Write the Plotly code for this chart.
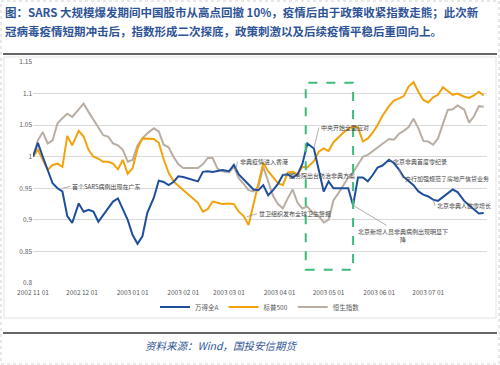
import plotly.graph_objects as go

# ---------------- data ----------------
dates = [
    "2002-11-01", "2002-11-04", "2002-11-07", "2002-11-10", "2002-11-13", "2002-11-16", "2002-11-19",
    "2002-11-22", "2002-11-25", "2002-11-29", "2002-12-02", "2002-12-05", "2002-12-08", "2002-12-11",
    "2002-12-14", "2002-12-17", "2002-12-20", "2002-12-23", "2002-12-26", "2002-12-29", "2003-01-01",
    "2003-01-04", "2003-01-07", "2003-01-10", "2003-01-14", "2003-01-17", "2003-01-20", "2003-01-23",
    "2003-01-26", "2003-01-29", "2003-02-01", "2003-02-04", "2003-02-07", "2003-02-10", "2003-02-13",
    "2003-02-16", "2003-02-19", "2003-02-22", "2003-02-25", "2003-03-01", "2003-03-04", "2003-03-07",
    "2003-03-10", "2003-03-13", "2003-03-16", "2003-03-19", "2003-03-22", "2003-03-25", "2003-03-28",
    "2003-03-31", "2003-04-03", "2003-04-06", "2003-04-09", "2003-04-12", "2003-04-15", "2003-04-18",
    "2003-04-22", "2003-04-25", "2003-04-28", "2003-05-01", "2003-05-04", "2003-05-07", "2003-05-10",
    "2003-05-13", "2003-05-16", "2003-05-19", "2003-05-22", "2003-05-25", "2003-05-28", "2003-05-31",
    "2003-06-03", "2003-06-07", "2003-06-10", "2003-06-13", "2003-06-16", "2003-06-19", "2003-06-22",
    "2003-06-25", "2003-06-28", "2003-07-01", "2003-07-04", "2003-07-07", "2003-07-10", "2003-07-13",
    "2003-07-16", "2003-07-19", "2003-07-23", "2003-07-26", "2003-07-29", "2003-08-01", "2003-08-04",
]

wind_a = [
    1.000, 1.022, 1.000, 0.979, 0.958, 0.950, 0.945, 0.906, 0.895, 0.926,
    0.913, 0.916, 0.913, 0.897, 0.908, 0.918, 0.929, 0.934, 0.916, 0.900,
    0.876, 0.862, 0.874, 0.911, 0.935, 0.962, 0.960, 0.955, 0.960, 0.969,
    0.968, 0.966, 0.963, 0.961, 0.976, 0.977, 0.976, 0.977, 0.979, 0.977,
    0.987, 0.972, 0.964, 0.955, 0.948, 0.947, 0.955, 0.939, 0.947, 0.957,
    0.971, 0.972, 0.967, 0.972, 0.989, 1.021, 1.013, 0.979, 0.945, 0.961,
    0.950, 0.950, 0.950, 0.950, 0.923, 0.967, 0.967, 0.961, 0.971, 0.983,
    0.986, 0.995, 0.990, 0.980, 0.968, 0.962, 0.955, 0.945, 0.940, 0.937,
    0.932, 0.930, 0.936, 0.943, 0.948, 0.944, 0.930, 0.923, 0.916, 0.910,
    0.911,
]

sp500 = [
    1.000, 1.011, 0.995, 0.979, 0.987, 0.989, 0.984, 1.033, 1.018, 1.041,
    1.032, 1.011, 1.000, 0.997, 0.992, 0.992, 0.989, 0.980, 0.995, 0.973,
    0.982, 1.013, 1.029, 1.029, 1.028, 1.022, 0.996, 0.975, 0.961, 0.954,
    0.947, 0.941, 0.934, 0.927, 0.913, 0.917, 0.929, 0.927, 0.925, 0.926,
    0.925, 0.913, 0.906, 0.892, 0.925, 0.958, 0.990, 0.977, 0.967, 0.958,
    0.955, 0.975, 0.976, 0.972, 0.984, 0.983, 0.993, 1.008, 1.013, 1.009,
    1.023, 1.031, 1.038, 1.044, 1.048, 1.046, 1.024, 1.029, 1.038, 1.050,
    1.065, 1.080, 1.089, 1.092, 1.096, 1.111, 1.118, 1.103, 1.090, 1.086,
    1.094, 1.098, 1.110, 1.104, 1.098, 1.100, 1.095, 1.093, 1.097, 1.103,
    1.097,
]

hsi = [
    1.000, 1.026, 1.039, 1.021, 1.026, 1.053, 1.061, 1.068, 1.063, 1.076,
    1.084, 1.071, 1.058, 1.047, 1.034, 1.032, 1.021, 1.018, 1.011, 0.992,
    0.995, 1.018, 1.029, 1.037, 1.045, 1.040, 1.019, 1.015, 1.000, 0.988,
    0.982, 0.982, 0.982, 0.982, 0.988, 0.998, 0.998, 0.981, 0.977, 0.975,
    0.984, 0.966, 0.957, 0.947, 0.945, 0.953, 0.984, 0.959, 0.938, 0.925,
    0.918, 0.934, 0.948, 0.927, 0.918, 0.921, 0.909, 0.906, 0.896, 0.900,
    0.931, 0.942, 0.955, 0.967, 0.975, 0.987, 1.000, 1.003, 1.009, 1.015,
    1.021, 1.028, 1.027, 1.036, 1.041, 1.047, 1.060, 1.045, 1.025, 1.024,
    1.019, 1.029, 1.052, 1.074, 1.075, 1.081, 1.075, 1.054, 1.064, 1.080,
    1.079,
]

series_names = ["万得全A", "标普500", "恒生指数"]
series_colors = ["#1F4E9C", "#F2A20C", "#B9AEA3"]

x_tick_vals = ["2002-11-01", "2002-12-01", "2003-01-01", "2003-02-01", "2003-03-01",
               "2003-04-01", "2003-05-01", "2003-06-01", "2003-07-01"]
x_tick_text = ["2002 11 01", "2002 12 01", "2003 01 01", "2003 02 01", "2003 03 01",
               "2003 04 01", "2003 05 01", "2003 06 01", "2003 07 01"]
y_tick_vals = [0.8, 0.85, 0.9, 0.95, 1.0, 1.05, 1.1, 1.15]
y_tick_text = ["0.8", "0.85", "0.9", "0.95", "1", "1.05", "1.1", "1.15"]

# event annotations: text, anchor date, anchor value, pixel offsets of the text tail,
# and which side of the text box sits at the tail
event_texts = [
    "首个SARS病例出现在广东",
    "非典疫情进入香港",
    "世卫组织发布全球卫生警报",
    "中央开始全面应对",
    "国务院出台防治非典方案",
    "北京非典首度零纪录",
    "央行加强规范了房地产信贷业务",
    "北京非典人数零增长",
    "北京新增人员非典病例出现明显下<br>降",
]
event_dates = ["2002-11-19", "2003-03-05", "2003-03-12", "2003-04-22", "2003-04-03",
               "2003-06-07", "2003-06-13", "2003-07-04", "2003-05-16"]
event_values = [0.950, 0.978, 0.905, 1.013, 0.971, 0.995, 0.980, 0.932, 0.923]
event_ax = [8, 2, 10, 5, 4, 2, 4, 2, 50]
event_ay = [-2, -9, -3, -21, 0, 2, 9, 6, 30]
event_anchor = ["left", "left", "left", "left", "left", "left", "left", "left", "center"]

box_x = ["2003-04-17", "2003-05-16"]
box_y = [0.821, 1.117]

title_line1 = "图：SARS 大规模爆发期间中国股市从高点回撤 10%，疫情后由于政策收紧指数走熊；此次新"
title_line2 = "冠病毒疫情短期冲击后，指数形成二次探底，政策刺激以及后续疫情平稳后重回向上。"
source_text = "资料来源：Wind，国投安信期货"

# ---------------- figure ----------------
W, H = 500, 365
ML, MR, MT, MB = 33, 13, 62, 82
PW, PH = W - ML - MR, H - MT - MB
FONT = "Noto Sans CJK SC, Noto Sans, sans-serif"


def px_x(px):
    return (px - ML) / PW


def px_y(py):
    return (H - MB - py) / PH


fig = go.Figure()
for name, vals, col in zip(series_names[::-1], [hsi, sp500, wind_a], series_colors[::-1]):
    fig.add_trace(go.Scatter(x=dates, y=vals, name=name, mode="lines",
                             line=dict(color=col, width=2)))

annotations = []
for t, d, v, ax, ay, anc in zip(event_texts, event_dates, event_values, event_ax, event_ay,
                                event_anchor):
    annotations.append(dict(x=d, y=v, xref="x", yref="y", text=t, showarrow=True,
                            arrowhead=0, arrowwidth=0.7, arrowcolor="#8C8C8C",
                            ax=ax, ay=ay, standoff=0, align="center", xanchor=anc,
                            font=dict(size=6, color="#454545", family=FONT)))

annotations += [
    dict(x=px_x(3), y=px_y(12), xref="paper", yref="paper", xanchor="left", yanchor="middle",
         text="<b>" + title_line1 + "</b>", showarrow=False,
         font=dict(size=11.5, color="#2F5496", family=FONT)),
    dict(x=px_x(3), y=px_y(31), xref="paper", yref="paper", xanchor="left", yanchor="middle",
         text="<b>" + title_line2 + "</b>", showarrow=False,
         font=dict(size=11.5, color="#2F5496", family=FONT)),
    dict(x=px_x(143), y=px_y(345), xref="paper", yref="paper", xanchor="left", yanchor="middle",
         text="<i>" + source_text + "</i>", showarrow=False,
         font=dict(size=10.5, color="#2F5496", family=FONT)),
]

shapes = [
    dict(type="rect", xref="x", yref="y", x0=box_x[0], x1=box_x[1], y0=box_y[0], y1=box_y[1],
         line=dict(color="#3DBB7A", width=2, dash="dash")),
    dict(type="line", xref="paper", yref="paper", x0=px_x(3), x1=px_x(497), y0=px_y(54), y1=px_y(54),
         line=dict(color="#333333", width=1.5)),
    dict(type="line", xref="paper", yref="paper", x0=px_x(3), x1=px_x(497), y0=px_y(333), y1=px_y(333),
         line=dict(color="#333333", width=1.5)),
    dict(type="rect", xref="paper", yref="paper", x0=px_x(4), x1=px_x(496), y0=px_y(318), y1=px_y(57),
         line=dict(color="#E3E3E3", width=1)),
    dict(type="rect", xref="paper", yref="paper", x0=px_x(1), x1=px_x(499), y0=px_y(364), y1=px_y(1),
         line=dict(color="#D0D0D0", width=1, dash="dot")),
]

fig.update_layout(
    width=W, height=H,
    margin=dict(l=ML, r=MR, t=MT, b=MB),
    paper_bgcolor="white", plot_bgcolor="white",
    font=dict(family=FONT, color="#595959"),
    showlegend=True,
    legend=dict(orientation="h", x=0.5, xanchor="center", y=px_y(307), yanchor="middle",
                font=dict(size=6.5, color="#595959"), traceorder="reversed",
                itemwidth=30, bgcolor="rgba(0,0,0,0)"),
    xaxis=dict(type="date", range=["2002-11-01", "2003-08-06"], tickvals=x_tick_vals,
               ticktext=x_tick_text, showgrid=False, zeroline=False, showline=False,
               ticks="", ticklabelstandoff=4, tickfont=dict(size=6.5, color="#595959"),
               automargin=False),
    yaxis=dict(range=[0.8, 1.15], tickvals=y_tick_vals, ticktext=y_tick_text,
               showgrid=True, gridcolor="#D9D9D9", gridwidth=1, zeroline=False,
               showline=False, ticks="", tickfont=dict(size=6.5, color="#595959"),
               automargin=False),
    annotations=annotations,
    shapes=shapes,
)

fig.write_html("out.html", config={"displayModeBar": False},
               post_script="document.body.style.margin='0px';")
